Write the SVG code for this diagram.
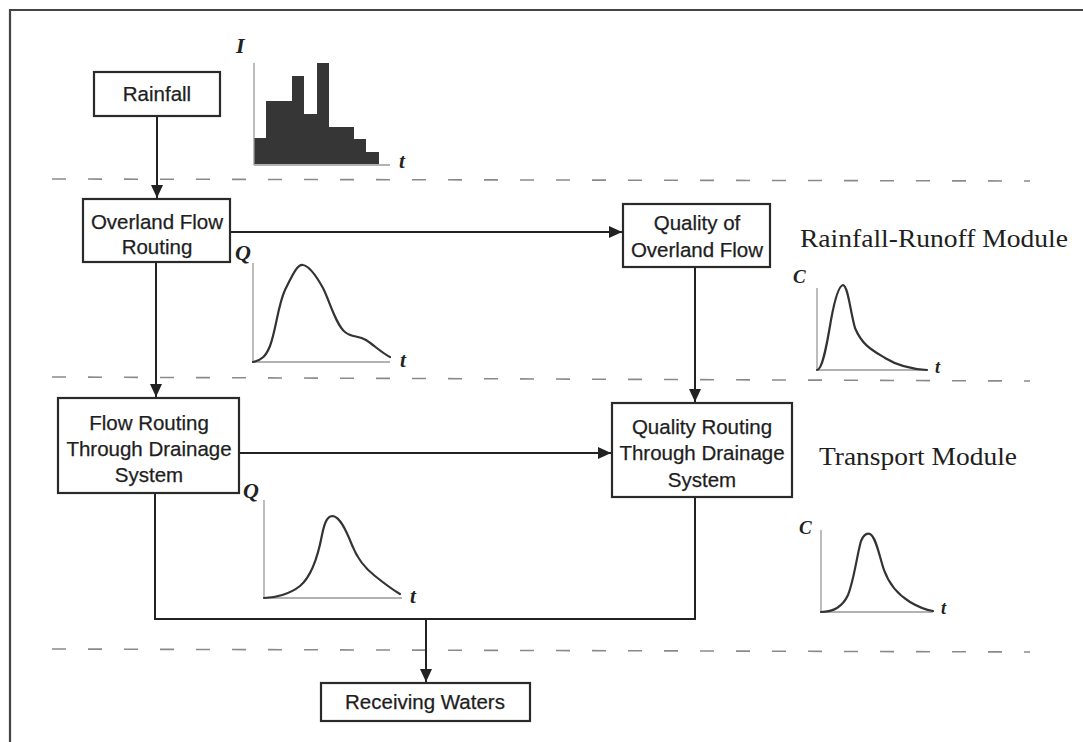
<svg xmlns="http://www.w3.org/2000/svg" width="1083" height="742" viewBox="0 0 1083 742">
<style>
.box{fill:#fff;stroke:#2a2a2a;stroke-width:2.2}
.lbl{font-family:"Liberation Sans",Arial,sans-serif;font-size:20.5px;fill:#1e1e1e;text-anchor:middle;stroke:#1e1e1e;stroke-width:0.25}
.mod{font-family:"Liberation Serif","Times New Roman",serif;font-size:26px;fill:#1e1e1e}
.var{font-family:"Liberation Serif","Times New Roman",serif;font-style:italic;font-weight:bold;fill:#222}
.conn{fill:none;stroke:#222;stroke-width:2}
.dash{fill:none;stroke:#8a8a8a;stroke-width:1.6;stroke-dasharray:14 22}
.axis{fill:none;stroke:#999;stroke-width:1.3}
.curve{fill:none;stroke:#333;stroke-width:2.2;stroke-linejoin:round;stroke-linecap:round}
</style>
<defs>
<marker id="arr" markerUnits="userSpaceOnUse" markerWidth="12" markerHeight="14" refX="13" refY="6" orient="auto">
<path d="M0,0 L13,6 L0,12 z" fill="#222"/>
</marker>
</defs>
<rect width="1083" height="742" fill="#fff"/>
<!-- frame -->
<path d="M10,742 V10 H1083" fill="none" stroke="#444" stroke-width="2.2"/>
<!-- dashed separators -->
<g id="separators">
<line class="dash" x1="52" y1="179" x2="1030" y2="181"/>
<line class="dash" x1="52" y1="377" x2="1030" y2="381"/>
<line class="dash" x1="52" y1="649" x2="1030" y2="652"/>
</g>
<!-- connectors -->
<g id="connectors">
<path class="conn" d="M157,116 V198" marker-end="url(#arr)"/>
<path class="conn" d="M156,262 V397" marker-end="url(#arr)"/>
<path class="conn" d="M230,232 H622" marker-end="url(#arr)"/>
<path class="conn" d="M695,267 V402" marker-end="url(#arr)"/>
<path class="conn" d="M239,453 H611" marker-end="url(#arr)"/>
<path class="conn" d="M155,493 V619 H695 V497"/>
<path class="conn" d="M426,619 V682" marker-end="url(#arr)"/>
</g>
<!-- nodes -->
<g id="rainfall">
<rect class="box" x="94" y="72" width="126" height="44"/>
<text class="lbl" x="157" y="101">Rainfall</text>
</g>
<g id="overland">
<rect class="box" x="83" y="199" width="147" height="63"/>
<text class="lbl" x="157" y="229">Overland Flow</text>
<text class="lbl" x="157" y="254">Routing</text>
</g>
<g id="quality-overland">
<rect class="box" x="623" y="204" width="147" height="63"/>
<text class="lbl" x="697" y="230">Quality of</text>
<text class="lbl" x="697" y="257">Overland Flow</text>
</g>
<g id="flow-routing">
<rect class="box" x="58" y="398" width="181" height="95"/>
<text class="lbl" x="149" y="430">Flow Routing</text>
<text class="lbl" x="149" y="456">Through Drainage</text>
<text class="lbl" x="149" y="482">System</text>
</g>
<g id="quality-routing">
<rect class="box" x="612" y="403" width="180" height="94"/>
<text class="lbl" x="702" y="434">Quality Routing</text>
<text class="lbl" x="702" y="460">Through Drainage</text>
<text class="lbl" x="702" y="487">System</text>
</g>
<g id="receiving">
<rect class="box" x="321" y="683" width="209" height="38"/>
<text class="lbl" x="425" y="709">Receiving Waters</text>
</g>
<!-- module labels -->
<text class="mod" x="800" y="247" textLength="268" lengthAdjust="spacingAndGlyphs">Rainfall-Runoff Module</text>
<text class="mod" x="819" y="465" textLength="198" lengthAdjust="spacingAndGlyphs">Transport Module</text>
<!-- hyetograph -->
<g id="hyetograph">
<path d="M254,164 V138 H266 V101 H292 V76 H304 V114 H317 V63 H329 V127 H354 V139 H366 V152 H379 V164 Z" fill="#363636"/>
<line class="axis" x1="254" y1="63" x2="254" y2="165"/>
<line class="axis" x1="254" y1="165" x2="390" y2="165"/>
<text class="var" x="236" y="53" font-size="22">I</text>
<text class="var" x="399" y="168" font-size="21">t</text>
</g>
<!-- Q graph 1 -->
<g id="q-graph-1">
<line class="axis" x1="253" y1="263" x2="253" y2="362"/>
<line class="axis" x1="253" y1="362" x2="390" y2="362"/>
<path class="curve" d="M253,362 C262,360 266,356 270,346 C276,330 278,305 285,290 C292,276 297,264 303,265 C310,266 318,279 323,288 C330,302 336,325 345,332 C352,338 358,335 366,340 C375,346 382,353 390,357"/>
<text class="var" x="235" y="260" font-size="22">Q</text>
<text class="var" x="400" y="367" font-size="21">t</text>
</g>
<!-- C graph 1 -->
<g id="c-graph-1">
<line class="axis" x1="817" y1="288" x2="817" y2="370"/>
<line class="axis" x1="817" y1="370" x2="927" y2="370"/>
<path class="curve" d="M817,370 C822,370 826,350 831,320 C835,298 839,286 843,285 C848,286 850,310 855,328 C862,345 872,350 885,358 C898,366 910,369 927,370"/>
<text class="var" x="793" y="283" font-size="19">C</text>
<text class="var" x="935" y="373" font-size="18">t</text>
</g>
<!-- Q graph 2 -->
<g id="q-graph-2">
<line class="axis" x1="264" y1="500" x2="264" y2="598"/>
<line class="axis" x1="264" y1="598" x2="402" y2="598"/>
<path class="curve" d="M264,598 C275,598 290,594 300,586 C312,576 318,556 322,535 C325,520 328,516 333,516 C340,517 346,530 352,545 C358,560 365,568 375,576 C385,584 393,590 400,594"/>
<text class="var" x="243" y="498" font-size="22">Q</text>
<text class="var" x="410" y="603" font-size="21">t</text>
</g>
<!-- C graph 2 -->
<g id="c-graph-2">
<line class="axis" x1="821" y1="530" x2="821" y2="612"/>
<line class="axis" x1="821" y1="612" x2="933" y2="612"/>
<path class="curve" d="M821,612 C832,612 842,608 848,595 C854,580 857,555 861,541 C864,534 867,533 870,534 C876,537 879,555 884,570 C889,584 897,594 910,602 C920,608 926,610 933,611"/>
<text class="var" x="799" y="534" font-size="19">C</text>
<text class="var" x="941" y="614" font-size="18">t</text>
</g>
</svg>
